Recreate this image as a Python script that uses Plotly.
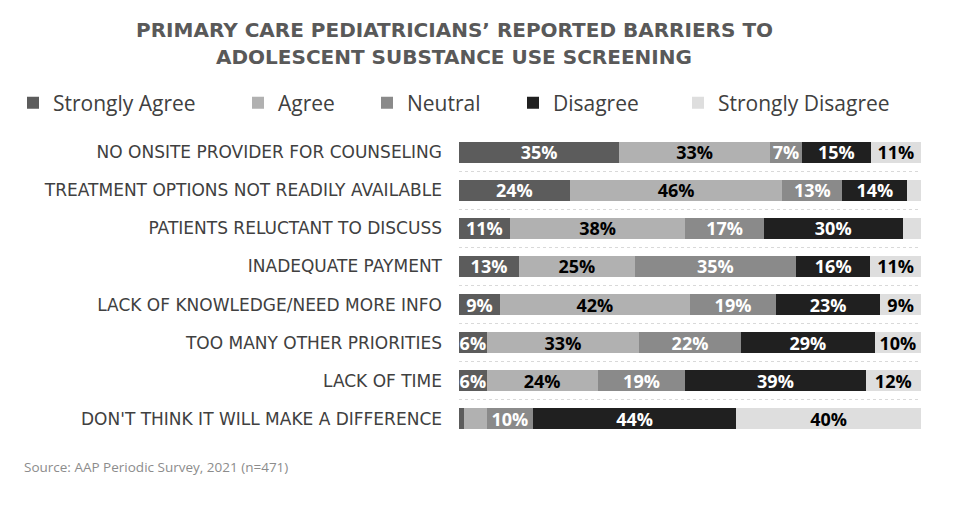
import plotly.graph_objects as go

categories = [
    "NO ONSITE PROVIDER FOR COUNSELING",
    "TREATMENT OPTIONS NOT READILY AVAILABLE",
    "PATIENTS RELUCTANT TO DISCUSS",
    "INADEQUATE PAYMENT",
    "LACK OF KNOWLEDGE/NEED MORE INFO",
    "TOO MANY OTHER PRIORITIES",
    "LACK OF TIME",
    "DON'T THINK IT WILL MAKE A DIFFERENCE",
]
strongly_agree = [35, 24, 11, 13, 9, 6, 6, 1]
agree = [33, 46, 38, 25, 42, 33, 24, 5]
neutral = [7, 13, 17, 35, 19, 22, 19, 10]
disagree = [15, 14, 30, 16, 23, 29, 39, 44]
strongly_disagree = [11, 3, 4, 11, 9, 10, 12, 40]

series_names = ["Strongly Agree", "Agree", "Neutral", "Disagree", "Strongly Disagree"]
series_values = [strongly_agree, agree, neutral, disagree, strongly_disagree]
colors = ["#5c5c5c", "#b1b1b1", "#8a8a8a", "#202020", "#dedede"]
text_colors = ["white", "black", "white", "white", "black"]

# page body adds an 8px offset; layout below is expressed in screenshot pixels
OFF = 8
W, H = 971 - 2 * OFF, 507 - 2 * OFF
PL, PR, PT, PB = 459, 921, 133, 438  # plot area in screenshot px
ML, MR, MT, MB = PL - OFF, W - (PR - OFF), PT - OFF, H - (PB - OFF)

def px_x(px):
    return (px - PL) / (PR - PL)

def px_y(py):
    return (PB - py) / (PB - PT)

legend_text_start = [53, 278, 407, 553, 718]

fig = go.Figure()
for i, (name, vals) in enumerate(zip(series_names, series_values)):
    labels = [f"{v}%" if v >= 6 else "" for v in vals]
    fig.add_trace(go.Bar(
        y=categories, x=vals, name=name, orientation="h",
        marker=dict(color=colors[i], line=dict(width=0)),
        text=labels, textposition="inside", insidetextanchor="middle",
        textangle=0,
        textfont=dict(family="Open Sans", size=18, color=text_colors[i], weight="bold"),
        legend="legend" if i == 0 else f"legend{i+1}",
        hoverinfo="skip",
    ))

layout_legends = {}
for i, ts in enumerate(legend_text_start):
    key = "legend" if i == 0 else f"legend{i+1}"
    layout_legends[key] = dict(
        x=(ts - OFF - 40) / W, xref="container", xanchor="left",
        y=1 - (103 - OFF) / H, yref="container", yanchor="middle",
        bgcolor="rgba(0,0,0,0)", orientation="h",
        font=dict(family="Open Sans", size=21, color="#404040"),
        itemwidth=30,
    )

fig.update_layout(
    width=W, height=H,
    barmode="stack", barnorm="percent", bargap=0.45,
    plot_bgcolor="white", paper_bgcolor="white",
    margin=dict(l=ML, r=MR, t=MT, b=MB, autoexpand=False),
    uniformtext=dict(minsize=18, mode="show"),
    showlegend=True,
    **layout_legends,
)
fig.update_xaxes(range=[0, 100], tickvals=[0], showticklabels=False,
                 showgrid=True, gridcolor="#d0d0d0", griddash="dot",
                 zeroline=False, fixedrange=True)
fig.update_yaxes(autorange="reversed", tickson="boundaries", showgrid=True,
                 gridcolor="#d9d9d9", griddash="dot", ticks="",
                 ticklabelstandoff=16,
                 tickfont=dict(family="DejaVu Sans", size=17, color="#404040"))

title_font = dict(family="DejaVu Sans", size=20, color="#595959", weight="bold")
fig.add_annotation(text="PRIMARY CARE PEDIATRICIANS’ REPORTED BARRIERS TO",
                   xref="paper", yref="paper", x=px_x(454), y=px_y(29.5),
                   xanchor="center", yanchor="middle", showarrow=False,
                   font=title_font)
fig.add_annotation(text="ADOLESCENT SUBSTANCE USE SCREENING",
                   xref="paper", yref="paper", x=px_x(453.5), y=px_y(57.5),
                   xanchor="center", yanchor="middle", showarrow=False,
                   font=title_font)
fig.add_annotation(text="Source: AAP Periodic Survey, 2021 (n=471)",
                   xref="paper", yref="paper", x=px_x(22), y=px_y(467),
                   xanchor="left", yanchor="middle", showarrow=False,
                   font=dict(family="Open Sans", size=13.5, color="#8c8c8c"))

fig.write_html("out.html")
